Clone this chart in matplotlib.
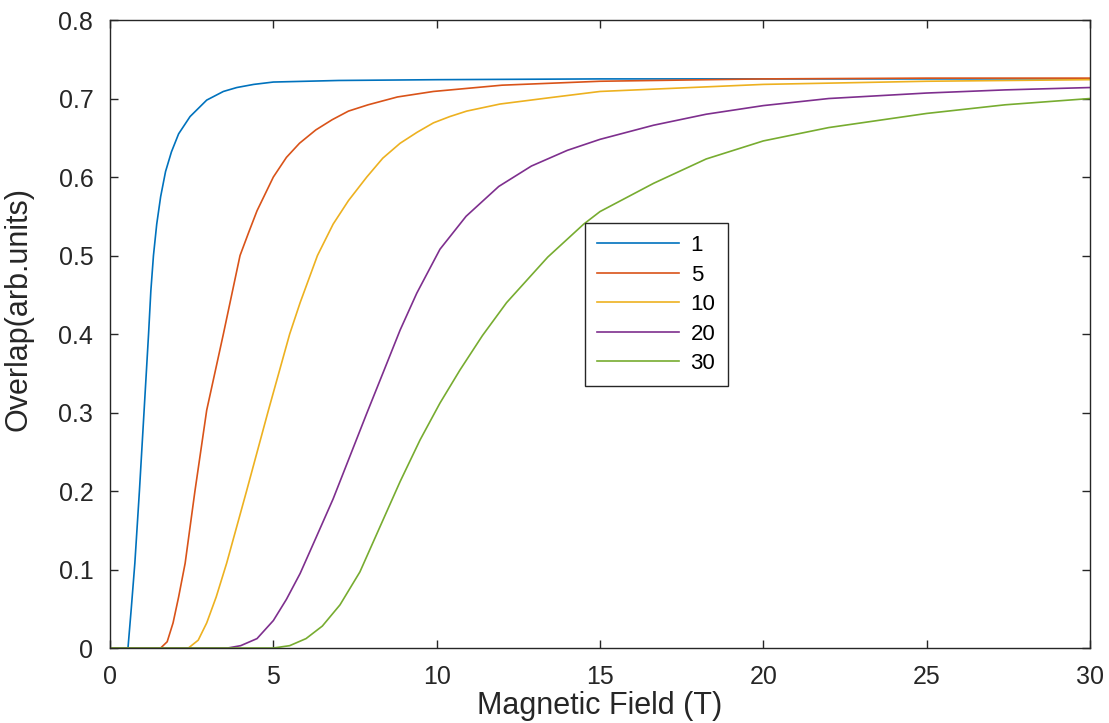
import matplotlib
matplotlib.use("Agg")
import matplotlib.pyplot as plt

plt.rcParams['font.family'] = ['Liberation Sans', 'DejaVu Sans']

# 读取自图中的数据点
labels = ["1", "5", "10", "20", "30"]

field_1 = [0, 0.45, 0.55, 0.65, 0.76, 0.90, 1.04, 1.18, 1.25, 1.33, 1.43, 1.55, 1.70, 1.88,
           2.10, 2.45, 2.96, 3.47, 3.88, 4.40, 5.0, 7.0, 10.0, 15.0, 20.0, 25.0, 30.0]
overlap_1 = [0, 0, 0.0, 0.05, 0.108, 0.20, 0.30, 0.40, 0.455, 0.50, 0.54, 0.575, 0.607, 0.632,
             0.655, 0.677, 0.698, 0.709, 0.714, 0.718, 0.721, 0.723, 0.724, 0.725, 0.725,
             0.725, 0.725]

field_5 = [0, 1.55, 1.75, 1.93, 2.10, 2.30, 2.60, 2.96, 3.47, 3.98, 4.25, 4.5, 5.0, 5.4, 5.8,
           6.3, 6.8, 7.3, 7.9, 8.8, 9.9, 12.0, 15.0, 20.0, 25.0, 30.0]
overlap_5 = [0, 0, 0.008, 0.032, 0.065, 0.108, 0.20, 0.303, 0.40, 0.50, 0.53, 0.557, 0.60,
             0.625, 0.643, 0.660, 0.673, 0.684, 0.692, 0.702, 0.709, 0.717, 0.722, 0.725,
             0.726, 0.726]

field_10 = [0, 2.4, 2.7, 2.96, 3.25, 3.57, 4.18, 4.85, 5.5, 5.82, 6.35, 6.83, 7.3, 7.86, 8.35,
            8.88, 9.4, 9.9, 10.4, 10.92, 11.94, 13.45, 15.0, 20.0, 25.0, 30.0]
overlap_10 = [0, 0, 0.01, 0.032, 0.065, 0.108, 0.20, 0.303, 0.40, 0.44, 0.50, 0.54, 0.57, 0.60,
              0.624, 0.643, 0.657, 0.669, 0.677, 0.684, 0.693, 0.701, 0.709, 0.718, 0.722,
              0.724]

field_20 = [0, 3.6, 4.0, 4.5, 5.0, 5.4, 5.82, 6.3, 6.83, 7.35, 7.86, 8.4, 8.88, 9.39, 10.1,
            10.9, 11.9, 12.9, 14.0, 15.0, 16.64, 18.25, 20.0, 22.0, 25.0, 27.4, 30.0]
overlap_20 = [0, 0, 0.003, 0.012, 0.035, 0.062, 0.095, 0.14, 0.19, 0.245, 0.299, 0.355, 0.405,
              0.452, 0.508, 0.550, 0.588, 0.614, 0.634, 0.648, 0.666, 0.680, 0.691, 0.700,
              0.707, 0.711, 0.714]

field_30 = [0, 5.0, 5.5, 6.0, 6.5, 7.04, 7.65, 8.27, 8.88, 9.49, 10.1, 10.71, 11.4, 12.14,
            12.9, 13.4, 14.5, 15.0, 16.64, 18.25, 20.0, 22.0, 25.0, 27.4, 30.0]
overlap_30 = [0, 0, 0.003, 0.012, 0.028, 0.055, 0.097, 0.155, 0.212, 0.265, 0.312, 0.354,
              0.398, 0.440, 0.475, 0.498, 0.540, 0.556, 0.592, 0.623, 0.646, 0.663, 0.681,
              0.692, 0.700]

fields = [field_1, field_5, field_10, field_20, field_30]
overlaps = [overlap_1, overlap_5, overlap_10, overlap_20, overlap_30]

# MATLAB 默认配色
colors = ["#0072BD", "#D95319", "#EDB120", "#7E2F8E", "#77AC30"]

fig = plt.figure(figsize=(11.09, 7.23), dpi=100)
ax = fig.add_axes([0.0992, 0.1037, 0.8837, 0.8686])

for f, o, c, lab in zip(fields, overlaps, colors, labels):
    ax.plot(f, o, color=c, linewidth=1.2, label=lab)

ax.set_xlim(0, 30)
ax.set_ylim(0, 0.8)
ax.set_xticks([0, 5, 10, 15, 20, 25, 30])
ax.set_yticks([0, 0.1, 0.2, 0.3, 0.4, 0.5, 0.6, 0.7, 0.8])
ax.set_yticklabels(["0", "0.1", "0.2", "0.3", "0.4", "0.5", "0.6", "0.7", "0.8"])

axis_color = "#262626"
for sp in ax.spines.values():
    sp.set_color(axis_color)
    sp.set_linewidth(1.0)
ax.tick_params(direction="in", length=6, width=1.0, top=True, right=True,
               colors=axis_color, labelsize=18, pad=12)

ax.set_xlabel("Magnetic Field (T)", fontsize=22, color=axis_color, labelpad=2)
ax.set_ylabel("Overlap(arb.units)", fontsize=22, color=axis_color)
ax.yaxis.set_label_coords(-0.078, 0.54)

# 图例
leg = ax.legend(loc="upper left", bbox_to_anchor=(0.4847, 0.6768), borderaxespad=0,
                fontsize=16, fancybox=False, framealpha=1, edgecolor=axis_color,
                handlelength=3.7, labelspacing=0.38, borderpad=0.55, handletextpad=0.5)
leg.get_frame().set_linewidth(1.0)

fig.savefig("out.png", dpi=100)
